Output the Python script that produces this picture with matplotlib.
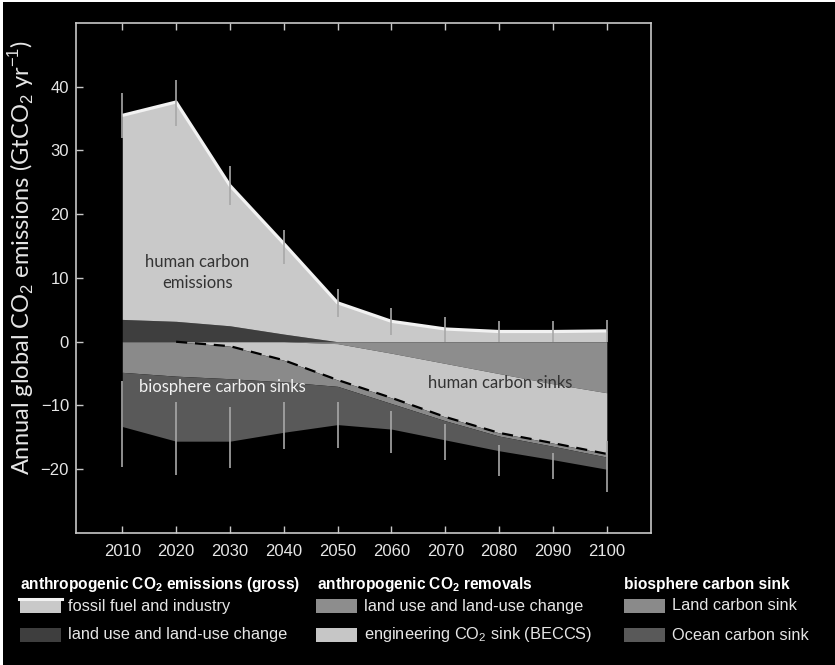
import numpy as np
import matplotlib
matplotlib.use("Agg")
import matplotlib.pyplot as plt
from matplotlib.patches import Rectangle
from matplotlib.lines import Line2D

plt.rcParams['font.family'] = ['Liberation Sans', 'DejaVu Sans']
plt.rcParams['mathtext.fontset'] = 'custom'
plt.rcParams['mathtext.rm'] = 'Liberation Sans'
plt.rcParams['mathtext.bf'] = 'Liberation Sans:bold'

# pathway values, GtCO2 per year (sinks negative)
years = [2010, 2020, 2030, 2040, 2050, 2060, 2070, 2080, 2090, 2100]
fossil = [32.0, 34.4, 22.0, 14.2, 6.1, 3.2, 2.0, 1.6, 1.6, 1.7]
landuse_emis = [3.5, 3.2, 2.5, 1.2, 0.0, 0.0, 0.0, 0.0, 0.0, 0.0]
landuse_removal = [0.0, 0.0, 0.0, 0.0, -0.3, -1.8, -3.4, -5.0, -6.6, -8.0]
beccs = [0.0, 0.0, -0.7, -2.9, -5.7, -7.0, -8.4, -9.3, -9.3, -9.6]
land_sink = [-4.8, -5.4, -5.1, -3.4, -1.0, -0.9, -0.6, -0.5, -0.5, -0.5]
ocean_sink = [-8.5, -10.2, -9.8, -7.9, -6.0, -4.0, -3.0, -2.3, -2.1, -1.9]

# uncertainty ranges
emis_lo = [32.0, 33.8, 21.5, 12.2, 3.8, 1.1, 0.0, 0.0, 0.0, 0.0]
emis_hi = [39.0, 41.1, 27.6, 17.5, 8.3, 5.3, 3.9, 3.3, 3.3, 3.4]
sink_hi = [-6.2, -9.4, -10.2, -9.5, -9.4, -10.9, -12.9, -16.2, -17.5, -15.5]
sink_lo = [-19.6, -20.9, -19.8, -16.8, -16.6, -17.4, -18.5, -21.0, -21.5, -23.5]

c_fossil = '#c9c9c9'
c_lu_emis = '#3e3e3e'
c_lu_rem = '#8d8d8d'
c_beccs = '#c6c6c6'
c_land = '#8a8a8a'
c_ocean = '#595959'
c_err = '#a8a8a8'
c_fg = '#e6e6e6'

yr = np.array(years)
pos1 = np.array(landuse_emis)
pos2 = pos1 + np.array(fossil)
neg1 = np.array(landuse_removal)
neg2 = neg1 + np.array(beccs)
neg3 = neg2 + np.array(land_sink)
neg4 = neg3 + np.array(ocean_sink)

fig = plt.figure(figsize=(8.35, 6.65), dpi=100)
fig.patch.set_facecolor('white')
fig.add_artist(Rectangle((2.5 / 835, 0), 1, 1 - 1.5 / 665, transform=fig.transFigure,
                         facecolor='black', edgecolor='none', zorder=-10))

ax = fig.add_axes([0.091, 0.1985, 0.6886, 0.767])
ax.set_facecolor('black')

ax.fill_between(yr, 0, pos1, color=c_lu_emis, lw=0)
ax.fill_between(yr, pos1, pos2, color=c_fossil, lw=0)
ax.fill_between(yr, 0, neg1, color=c_lu_rem, lw=0)
ax.fill_between(yr, neg1, neg2, color=c_beccs, lw=0)
ax.fill_between(yr, neg2, neg3, color=c_land, lw=0)
ax.fill_between(yr, neg3, neg4, color=c_ocean, lw=0)

ax.plot(yr, pos2, color='#f2f2f2', lw=2.3, solid_capstyle='butt', zorder=4)
ax.plot(yr[1:], neg2[1:], color='black', lw=1.6, dashes=(5, 3.5), zorder=4)

ax.vlines(yr, emis_lo, emis_hi, color=c_err, lw=1.2, zorder=5)
ax.vlines(yr, sink_lo, sink_hi, color=c_err, lw=1.2, zorder=5)

ax.text(2023.9, 10.9, 'human carbon\nemissions', ha='center', va='center',
        fontsize=12, color='#333333', family='Lato', linespacing=1.35)
ax.text(2080.2, -6.4, 'human carbon sinks', ha='center', va='center',
        fontsize=12, color='#333333', family='Lato')
ax.text(2028.6, -7.1, 'biosphere carbon sinks', ha='center', va='center',
        fontsize=12, color='#f2f2f2', family='Lato')

ax.set_xlim(2001.4, 2108.2)
ax.set_ylim(-30, 50)
ax.set_xticks(years)
ax.set_yticks(np.arange(-20, 41, 10))
ax.tick_params(axis='x', direction='in', top=True, length=5, width=1,
               color='#c8c8c8', labelcolor=c_fg, labelsize=12, pad=8)
ax.tick_params(axis='y', direction='in', length=5, width=1,
               color='#c8c8c8', labelcolor=c_fg, labelsize=12, pad=5)
for s in ax.spines.values():
    s.set_color('#c8c8c8')
    s.set_linewidth(1.2)

ax.set_ylabel(r'Annual global CO$_2$ emissions (GtCO$_2$ yr$^{-1}$)',
              family='Lato', fontsize=17, color=c_fg)
ax.yaxis.set_label_coords(-0.067, 0.54)

# legend block beneath the axes
W, H = 835.0, 665.0


def fx(px):
    return px / W


def fy(py):
    return 1 - py / H


heads = [(20, r'anthropogenic CO$_\mathbf{2}$ emissions (gross)'),
         (317, r'anthropogenic CO$_\mathbf{2}$ removals'),
         (624, 'biosphere carbon sink')]
for x0, t in heads:
    fig.text(fx(x0), fy(584), t, fontsize=11.2, fontweight='bold', color='white',
             ha='left', va='center')

items = [(20, 606, c_fossil, 'fossil fuel and industry', True),
         (20, 635, c_lu_emis, 'land use and land-use change', False),
         (316, 606, c_lu_rem, 'land use and land-use change', False),
         (316, 635, c_beccs, r'engineering CO$_2$ sink (BECCS)', False),
         (624, 606, c_land, 'Land carbon sink', False),
         (624, 635, c_ocean, 'Ocean carbon sink', False)]
for x0, yc, col, t, topline in items:
    fig.add_artist(Rectangle((fx(x0), fy(yc + 7)), 41 / W, 14 / H,
                             transform=fig.transFigure, facecolor=col,
                             edgecolor='none'))
    if topline:
        fig.add_artist(Line2D([fx(x0 - 1), fx(x0 + 42)], [fy(yc - 7)] * 2,
                              transform=fig.transFigure, color='#f2f2f2', lw=2.2))
    fig.text(fx(x0 + 48), fy(yc), t, fontsize=11.8, color=c_fg,
             ha='left', va='center')

fig.savefig('out.png', dpi=100, facecolor=fig.get_facecolor())
